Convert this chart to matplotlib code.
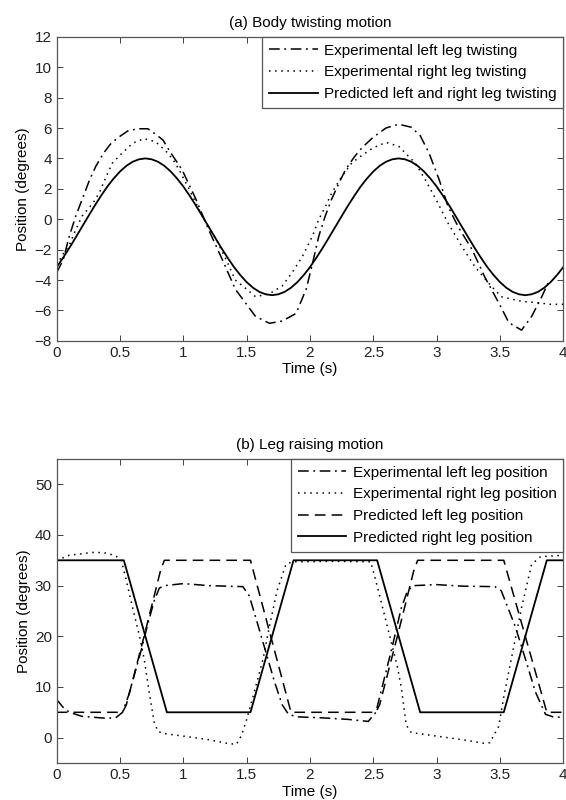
import matplotlib
matplotlib.use('Agg')
import matplotlib.pyplot as plt

plt.rcParams['font.family'] = ['Liberation Sans', 'DejaVu Sans']
plt.rcParams['font.size'] = 11

########## (a) Body twisting motion ##########
t_pred_twist = [0, 0.05, 0.1, 0.15, 0.2, 0.25, 0.3, 0.35, 0.4, 0.45, 0.5, 0.55, 0.6, 0.65,
                0.7, 0.75, 0.8, 0.85, 0.9, 0.95, 1.0, 1.05, 1.1, 1.15, 1.2, 1.25, 1.3, 1.35,
                1.4, 1.45, 1.5, 1.55, 1.6, 1.65, 1.7, 1.75, 1.8, 1.85, 1.9, 1.95,
                2.0, 2.05, 2.1, 2.15, 2.2, 2.25, 2.3, 2.35, 2.4, 2.45, 2.5, 2.55, 2.6, 2.65,
                2.7, 2.75, 2.8, 2.85, 2.9, 2.95, 3.0, 3.05, 3.1, 3.15, 3.2, 3.25, 3.3, 3.35,
                3.4, 3.45, 3.5, 3.55, 3.6, 3.65, 3.7, 3.75, 3.8, 3.85, 3.9, 3.95, 4.0]
pred_twist = [-3.15, -2.54, -1.89, -1.2, -0.5, 0.2, 0.89, 1.54, 2.15, 2.68, 3.14, 3.51, 3.78, 3.94,
              4.0, 3.94, 3.78, 3.51, 3.14, 2.68, 2.15, 1.54, 0.89, 0.2, -0.5, -1.2, -1.89, -2.54,
              -3.15, -3.68, -4.14, -4.51, -4.78, -4.94, -5.0, -4.94, -4.78, -4.51, -4.14, -3.68,
              -3.15, -2.54, -1.89, -1.2, -0.5, 0.2, 0.89, 1.54, 2.15, 2.68, 3.14, 3.51, 3.78, 3.94,
              4.0, 3.94, 3.78, 3.51, 3.14, 2.68, 2.15, 1.54, 0.89, 0.2, -0.5, -1.2, -1.89, -2.54,
              -3.15, -3.68, -4.14, -4.51, -4.78, -4.94, -5.0, -4.94, -4.78, -4.51, -4.14, -3.68,
              -3.15]

t_left_twist = [0, 0.05, 0.1, 0.15, 0.21, 0.26, 0.31, 0.37, 0.43, 0.49, 0.56, 0.64, 0.72,
                0.78, 0.84, 0.89, 0.99, 1.1, 1.2, 1.31, 1.41, 1.49, 1.57, 1.68, 1.78, 1.89,
                1.97, 2.02, 2.07, 2.12, 2.17, 2.23, 2.28, 2.35, 2.41, 2.5, 2.6, 2.7, 2.8,
                2.87, 2.94, 3.02, 3.09, 3.17, 3.28, 3.38, 3.49, 3.57, 3.67, 3.75, 3.83, 3.88]
left_twist = [-3.5, -2.7, -1.1, 0.2, 1.5, 2.6, 3.5, 4.35, 5.0, 5.4, 5.8, 5.95, 5.95,
              5.6, 5.2, 4.5, 3.25, 1.3, -0.7, -2.7, -4.6, -5.5, -6.4, -6.85, -6.7, -6.2,
              -4.6, -2.9, -1.1, 0.2, 1.3, 2.4, 3.25, 4.1, 4.7, 5.4, 6.0, 6.25, 6.05,
              5.5, 4.35, 2.6, 0.84, -0.5, -2.0, -3.8, -5.5, -6.8, -7.3, -6.4, -5.1, -4.2]

t_right_twist = [0, 0.05, 0.1, 0.15, 0.2, 0.29, 0.34, 0.39, 0.44, 0.51, 0.6, 0.69, 0.78,
                 0.86, 0.92, 0.97, 1.05, 1.15, 1.26, 1.34, 1.41, 1.5, 1.57, 1.68, 1.78,
                 1.86, 1.94, 2.02, 2.07, 2.12, 2.17, 2.25, 2.33, 2.41, 2.5, 2.6, 2.7,
                 2.83, 2.91, 3.01, 3.09, 3.2, 3.3, 3.41, 3.51, 3.67, 3.8, 3.9, 4.0]
right_twist = [-3.0, -2.3, -1.7, -0.7, 0.2, 1.1, 1.8, 2.8, 3.7, 4.3, 5.0, 5.3, 5.1,
               4.5, 3.9, 3.2, 1.9, 0.2, -1.35, -2.7, -4.0, -4.6, -5.1, -4.9, -4.4,
               -3.5, -2.45, -1.1, 0.0, 0.8, 1.7, 2.8, 3.7, 4.2, 4.7, 5.05, 4.8,
               3.7, 2.6, 1.06, -0.26, -1.8, -3.1, -4.2, -5.1, -5.4, -5.5, -5.6, -5.6]

########## (b) Leg raising motion ##########
t_left_leg = [0, 0.05, 0.1, 0.2, 0.3, 0.4, 0.47, 0.52, 0.57, 0.62, 0.67, 0.72, 0.77, 0.81,
              0.85, 1.0, 1.2, 1.47, 1.52, 1.58, 1.65, 1.72, 1.78, 1.83, 1.9, 2.1, 2.3,
              2.46, 2.52, 2.57, 2.65, 2.72, 2.77, 2.82, 3.0, 3.2, 3.46, 3.51, 3.62,
              3.70, 3.78, 3.86, 3.92, 4.0]
left_leg = [7.5, 6.0, 5.0, 4.2, 4.0, 3.8, 4.0, 5.0, 8.5, 13, 17.5, 22.5, 27, 29.5,
            30.0, 30.4, 30.0, 29.8, 28, 23, 17, 11, 6.5, 4.6, 4.1, 3.9, 3.6,
            3.2, 5.0, 10, 18, 25.5, 29, 30.0, 30.2, 29.9, 29.8, 29, 22,
            15.6, 9, 4.6, 4.1, 4.0]

t_right_leg = [0, 0.1, 0.2, 0.3, 0.4, 0.47, 0.51, 0.55, 0.6, 0.65, 0.69, 0.73, 0.77, 0.8,
               0.85, 1.0, 1.2, 1.36, 1.42, 1.46, 1.5, 1.56, 1.63, 1.68, 1.74, 1.81, 1.86,
               2.2, 2.48, 2.54, 2.62, 2.69, 2.72, 2.76, 2.8, 3.0, 3.2, 3.37, 3.42, 3.49,
               3.53, 3.59, 3.67, 3.75, 3.82, 4.0]
right_leg = [35, 36, 36.3, 36.6, 36.4, 35.8, 35, 31, 25.6, 20.4, 15.6, 9, 3, 1.2,
             0.8, 0.3, -0.4, -1.2, -1.3, 0.5, 3.6, 9, 15.6, 22, 29, 34.2, 34.7,
             34.8, 34.7, 29, 21, 14, 10, 2.5, 1.0, 0.3, -0.4, -1.1, -1.0, 2.2,
             8, 15.6, 25.6, 34.2, 35.7, 36]

t_pred_left = [0, 0.52, 0.55, 0.69, 0.82, 0.85, 1.53, 1.85, 2.52, 2.55, 2.69, 2.82, 2.85,
               3.53, 3.87, 4.0]
pred_left = [5, 5, 6.5, 20, 33, 35, 35, 5, 5, 6.5, 20, 33, 35, 35, 5, 5]

t_pred_right = [0, 0.53, 0.87, 1.53, 1.87, 2.53, 2.87, 3.53, 3.87, 4.0]
pred_right = [35, 35, 5, 5, 35, 35, 5, 5, 35, 35]


def estilo(ax):
    # aparência tipo MATLAB
    ax.tick_params(direction='in', top=True, right=True, length=4, width=0.6,
                   colors='#222222', labelsize=11, pad=3.5)
    for sp in ax.spines.values():
        sp.set_color('#555555')
        sp.set_linewidth(0.9)
    ax.set_xlim(0, 4)
    ax.set_xticks([0, 0.5, 1, 1.5, 2, 2.5, 3, 3.5, 4])
    ax.set_xticklabels(['0', '0.5', '1', '1.5', '2', '2.5', '3', '3.5', '4'])
    ax.set_xlabel('Time (s)', labelpad=2)
    ax.set_ylabel('Position (degrees)', labelpad=3)


dashdot = (0, (7, 3, 1.2, 3))
dotted = (0, (1, 3))
dashed = (0, (7, 4))

fig = plt.figure(figsize=(5.66, 8), dpi=100)

ax1 = fig.add_axes([0.1002, 0.574, 0.895, 0.38])
ax1.plot(t_left_twist, left_twist, color='black', linestyle=dashdot, linewidth=1.1,
         label='Experimental left leg twisting')
ax1.plot(t_right_twist, right_twist, color='black', linestyle=dotted, linewidth=1.1,
         label='Experimental right leg twisting')
ax1.plot(t_pred_twist, pred_twist, color='black', linestyle='-', linewidth=1.3,
         label='Predicted left and right leg twisting')
estilo(ax1)
ax1.set_ylim(-8, 12)
ax1.set_yticks(range(-8, 13, 2))
ax1.set_title('(a) Body twisting motion', fontsize=11, pad=7)
leg1 = ax1.legend(loc='upper right', borderaxespad=0, fancybox=False, framealpha=1,
                  edgecolor='#555555', handlelength=3.2, handletextpad=0.4,
                  labelspacing=0.5, borderpad=0.45, fontsize=11)
leg1.get_frame().set_linewidth(0.9)

ax2 = fig.add_axes([0.1002, 0.0463, 0.895, 0.38])
ax2.plot(t_left_leg, left_leg, color='black', linestyle=dashdot, linewidth=1.1,
         label='Experimental left leg position')
ax2.plot(t_right_leg, right_leg, color='black', linestyle=dotted, linewidth=1.1,
         label='Experimental right leg position')
ax2.plot(t_pred_left, pred_left, color='black', linestyle=dashed, linewidth=1.1,
         label='Predicted left leg position')
ax2.plot(t_pred_right, pred_right, color='black', linestyle='-', linewidth=1.3,
         label='Predicted right leg position')
estilo(ax2)
ax2.set_ylim(-5, 55)
ax2.set_yticks([0, 10, 20, 30, 40, 50])
ax2.set_title('(b) Leg raising motion', fontsize=11, pad=7)
leg2 = ax2.legend(loc='upper right', borderaxespad=0, fancybox=False, framealpha=1,
                  edgecolor='#555555', handlelength=3.2, handletextpad=0.4,
                  labelspacing=0.5, borderpad=0.45, fontsize=11)
leg2.get_frame().set_linewidth(0.9)

fig.savefig('out.png', dpi=100)
